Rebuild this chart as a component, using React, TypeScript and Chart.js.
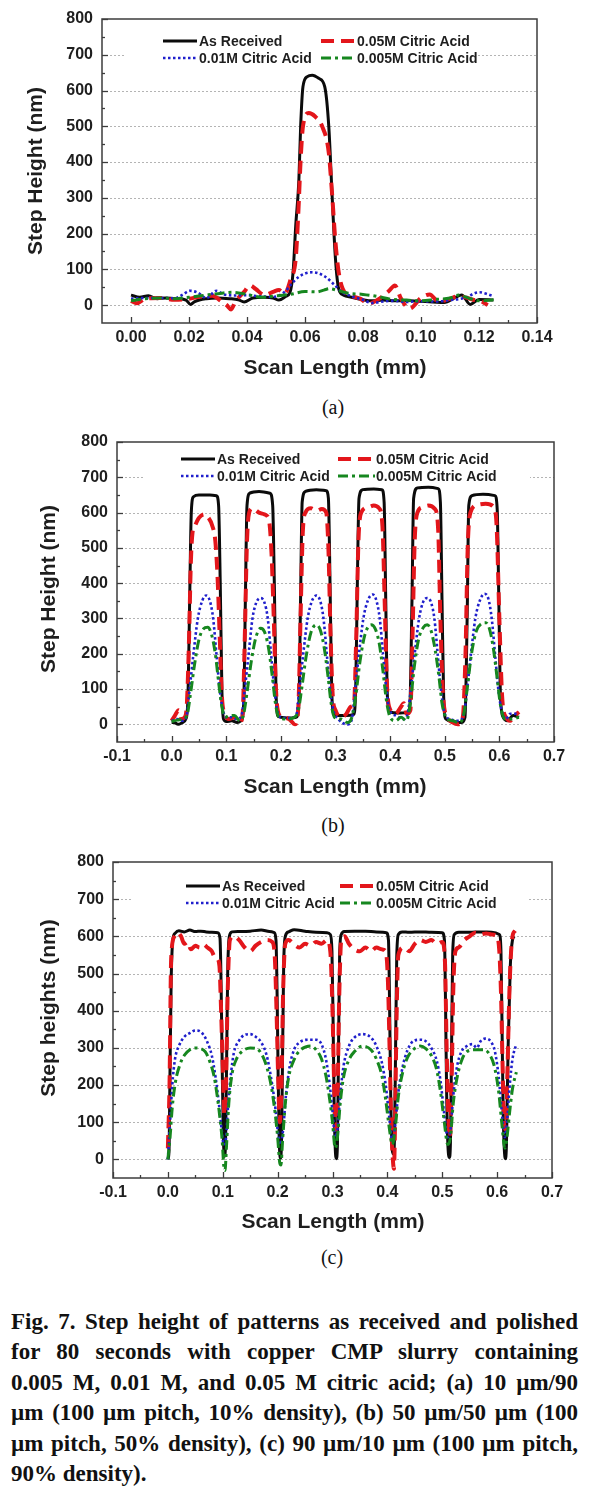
import React, { useEffect, useRef } from "react";
import { Chart, registerables } from "chart.js";

Chart.register(...registerables);

type Pt = [number, number];

const SERIES_NAMES = ["As Received", "0.05M Citric Acid", "0.01M Citric Acid", "0.005M Citric Acid"];

// ---------- Panel (a): 10 um / 90 um ----------
const aBlack: Pt[] = [[0,28],[0.003,22],[0.006,26],[0.009,18],[0.012,20],[0.016,18],[0.019,14],[0.0205,2],[0.022,10],[0.026,18],[0.03,20],[0.034,18],[0.037,15],[0.039,9],[0.042,20],[0.046,22],[0.049,20],[0.051,14],[0.0535,25],[0.0548,35],[0.0559,93],[0.0568,222],[0.0579,352],[0.0585,500],[0.0593,611],[0.0608,639],[0.0625,643],[0.0648,634],[0.0668,611],[0.0682,500],[0.0693,315],[0.0705,130],[0.0716,46],[0.0733,28],[0.076,22],[0.08,15],[0.083,12],[0.087,14],[0.091,12],[0.095,13],[0.099,11],[0.104,9],[0.108,7],[0.112,22],[0.114,28],[0.117,2],[0.12,16],[0.125,14]];
const aRed: Pt[] = [[0,12],[0.002,5],[0.005,18],[0.01,20],[0.015,15],[0.02,18],[0.024,24],[0.028,26],[0.031,12],[0.033,0],[0.0345,-12],[0.036,10],[0.039,37],[0.041,55],[0.043,45],[0.046,28],[0.049,37],[0.051,42],[0.053,32],[0.0551,74],[0.0568,130],[0.0577,259],[0.0585,407],[0.0593,500],[0.0613,537],[0.0634,528],[0.0659,500],[0.0682,426],[0.0693,315],[0.0705,176],[0.0716,93],[0.073,46],[0.076,26],[0.079,18],[0.082,5],[0.086,20],[0.089,40],[0.091,55],[0.093,20],[0.096,-10],[0.1,20],[0.103,30],[0.106,10],[0.11,18],[0.113,25],[0.118,15],[0.121,10],[0.123,0]];
const aBlue: Pt[] = [[0,18],[0.005,20],[0.01,20],[0.015,19],[0.018,30],[0.0203,40],[0.023,35],[0.026,20],[0.0294,40],[0.032,30],[0.036,27],[0.04,28],[0.044,25],[0.049,23],[0.053,37],[0.055,56],[0.058,80],[0.0625,92],[0.0665,82],[0.07,58],[0.0727,37],[0.076,25],[0.08,15],[0.083,6],[0.087,10],[0.09,12],[0.095,9],[0.1,11],[0.105,10],[0.11,14],[0.115,20],[0.12,36],[0.125,25]];
const aGreen: Pt[] = [[0,12],[0.005,18],[0.01,20],[0.015,18],[0.02,22],[0.025,27],[0.03,32],[0.035,36],[0.04,30],[0.045,22],[0.05,26],[0.055,30],[0.06,38],[0.064,37],[0.0665,42],[0.0685,46],[0.0716,40],[0.075,33],[0.08,30],[0.085,24],[0.09,16],[0.095,14],[0.1,12],[0.105,16],[0.11,20],[0.113,28],[0.117,18],[0.12,12],[0.125,15]];

// ---------- Panel (b): 50 um / 50 um ----------
const bBlack: Pt[] = [[0,5],[0.005,5],[0.012,0],[0.02,5],[0.026,15],[0.03,80],[0.033,350],[0.036,600],[0.04,645],[0.05,650],[0.07,650],[0.082,648],[0.086,620],[0.089,400],[0.092,100],[0.095,15],[0.1,8],[0.11,10],[0.12,5],[0.127,10],[0.132,60],[0.135,350],[0.138,620],[0.143,655],[0.16,660],[0.18,655],[0.185,620],[0.188,400],[0.191,100],[0.194,25],[0.2,20],[0.215,18],[0.228,20],[0.233,60],[0.236,350],[0.239,630],[0.245,660],[0.265,665],[0.283,662],[0.287,640],[0.29,400],[0.293,100],[0.297,30],[0.305,25],[0.32,25],[0.333,28],[0.337,100],[0.34,400],[0.343,640],[0.35,665],[0.37,667],[0.385,665],[0.389,630],[0.392,350],[0.395,80],[0.4,35],[0.415,32],[0.43,33],[0.436,50],[0.44,350],[0.443,640],[0.45,670],[0.47,672],[0.488,668],[0.492,630],[0.495,350],[0.498,80],[0.502,15],[0.515,8],[0.53,5],[0.537,20],[0.541,300],[0.544,620],[0.55,648],[0.57,652],[0.592,648],[0.596,610],[0.599,350],[0.602,80],[0.607,20],[0.615,10],[0.625,25],[0.636,20]];
const bRed: Pt[] = [[0,10],[0.006,25],[0.013,40],[0.018,15],[0.024,20],[0.028,60],[0.032,250],[0.035,450],[0.038,540],[0.042,560],[0.05,585],[0.06,595],[0.065,590],[0.075,560],[0.08,520],[0.084,420],[0.088,250],[0.092,80],[0.097,30],[0.105,15],[0.115,20],[0.125,5],[0.13,30],[0.134,250],[0.138,520],[0.142,600],[0.148,612],[0.16,600],[0.17,595],[0.178,580],[0.183,480],[0.187,300],[0.191,100],[0.196,30],[0.205,20],[0.215,15],[0.226,0],[0.232,50],[0.236,300],[0.24,540],[0.245,600],[0.255,612],[0.265,605],[0.275,610],[0.283,600],[0.287,500],[0.291,250],[0.295,80],[0.3,40],[0.31,20],[0.32,30],[0.328,50],[0.334,60],[0.338,250],[0.342,520],[0.347,600],[0.36,615],[0.37,620],[0.38,612],[0.386,560],[0.39,350],[0.394,120],[0.398,50],[0.41,30],[0.42,50],[0.425,60],[0.43,30],[0.437,40],[0.441,250],[0.445,520],[0.45,600],[0.46,615],[0.47,620],[0.482,610],[0.488,550],[0.492,300],[0.497,80],[0.505,20],[0.515,5],[0.524,0],[0.533,20],[0.538,200],[0.542,500],[0.547,600],[0.56,622],[0.575,625],[0.59,615],[0.595,560],[0.6,300],[0.605,80],[0.612,20],[0.62,10],[0.628,25],[0.636,35]];
const bBlue: Pt[] = [[0,10],[0.01,15],[0.02,10],[0.028,30],[0.033,100],[0.04,200],[0.048,300],[0.056,350],[0.063,365],[0.07,350],[0.076,300],[0.082,200],[0.088,100],[0.094,40],[0.1,20],[0.11,20],[0.12,15],[0.128,25],[0.134,100],[0.141,200],[0.148,300],[0.155,345],[0.163,358],[0.17,345],[0.176,300],[0.182,200],[0.188,100],[0.194,35],[0.2,20],[0.215,18],[0.228,25],[0.234,100],[0.241,200],[0.249,300],[0.257,350],[0.265,365],[0.272,350],[0.278,300],[0.284,200],[0.29,100],[0.296,40],[0.305,15],[0.322,0],[0.33,15],[0.336,100],[0.343,200],[0.351,300],[0.359,350],[0.368,368],[0.375,350],[0.381,300],[0.387,200],[0.393,100],[0.399,40],[0.41,25],[0.425,15],[0.432,30],[0.438,100],[0.445,200],[0.453,300],[0.46,345],[0.468,358],[0.475,345],[0.481,300],[0.487,200],[0.493,100],[0.5,30],[0.51,15],[0.525,10],[0.535,30],[0.541,100],[0.548,200],[0.556,300],[0.564,350],[0.573,370],[0.58,355],[0.586,300],[0.592,200],[0.598,100],[0.604,40],[0.612,15],[0.62,30],[0.636,30]];
const bGreen: Pt[] = [[0,8],[0.01,12],[0.02,15],[0.028,25],[0.034,80],[0.042,170],[0.05,240],[0.058,270],[0.066,275],[0.073,255],[0.08,200],[0.086,120],[0.092,50],[0.098,20],[0.105,25],[0.115,25],[0.125,10],[0.132,30],[0.138,90],[0.146,180],[0.154,245],[0.163,272],[0.17,262],[0.177,220],[0.184,140],[0.19,60],[0.196,20],[0.21,15],[0.225,20],[0.232,40],[0.238,100],[0.246,190],[0.255,260],[0.265,282],[0.272,268],[0.279,220],[0.286,140],[0.292,60],[0.298,20],[0.31,15],[0.322,5],[0.33,20],[0.337,80],[0.345,180],[0.354,255],[0.365,282],[0.373,270],[0.38,230],[0.387,150],[0.393,70],[0.4,20],[0.41,10],[0.42,20],[0.43,10],[0.437,60],[0.444,160],[0.452,240],[0.461,275],[0.468,282],[0.475,265],[0.482,215],[0.489,140],[0.495,60],[0.502,20],[0.515,10],[0.527,5],[0.535,30],[0.541,100],[0.549,200],[0.558,265],[0.567,285],[0.575,288],[0.582,270],[0.589,215],[0.596,130],[0.602,55],[0.61,15],[0.62,15],[0.636,20]];

// ---------- Panel (c): 90 um / 10 um ----------
const cBlack: Pt[] = [[0,0],[0.002,20],[0.004,250],[0.006,480],[0.009,590],[0.013,608],[0.02,615],[0.03,612],[0.04,617],[0.05,613],[0.06,614],[0.07,612],[0.08,611],[0.091,610],[0.095,595],[0.097,470],[0.099,250],[0.101,70],[0.103,8],[0.105,40],[0.107,260],[0.109,500],[0.112,600],[0.117,612],[0.13,613],[0.15,614],[0.17,617],[0.185,613],[0.194,610],[0.197,590],[0.199,450],[0.201,220],[0.203,50],[0.205,3],[0.207,40],[0.209,280],[0.211,520],[0.214,600],[0.22,612],[0.23,618],[0.25,614],[0.27,611],[0.29,610],[0.296,605],[0.299,560],[0.301,380],[0.303,150],[0.305,30],[0.307,2],[0.309,40],[0.311,300],[0.313,550],[0.316,605],[0.322,613],[0.34,614],[0.36,614],[0.38,612],[0.398,610],[0.402,590],[0.404,420],[0.406,180],[0.408,50],[0.411,15],[0.413,60],[0.415,300],[0.417,540],[0.42,605],[0.427,612],[0.44,611],[0.46,612],[0.48,611],[0.5,610],[0.504,590],[0.506,420],[0.508,180],[0.51,50],[0.513,5],[0.515,50],[0.517,300],[0.519,550],[0.522,605],[0.53,611],[0.55,611],[0.57,612],[0.59,611],[0.604,605],[0.607,560],[0.609,350],[0.611,130],[0.613,30],[0.615,2],[0.617,40],[0.62,300],[0.624,520],[0.628,590],[0.631,600]];
const cRed: Pt[] = [[0,30],[0.003,200],[0.006,540],[0.012,600],[0.018,610],[0.024,600],[0.03,580],[0.036,585],[0.042,565],[0.05,575],[0.058,570],[0.065,578],[0.072,570],[0.08,560],[0.085,545],[0.09,540],[0.094,520],[0.097,400],[0.1,250],[0.103,120],[0.106,200],[0.109,450],[0.113,590],[0.12,600],[0.13,590],[0.14,570],[0.15,560],[0.16,575],[0.17,585],[0.18,590],[0.19,585],[0.195,540],[0.198,400],[0.201,220],[0.204,100],[0.207,200],[0.21,450],[0.214,580],[0.22,590],[0.23,578],[0.24,570],[0.25,580],[0.26,575],[0.27,585],[0.28,580],[0.29,590],[0.296,560],[0.3,400],[0.303,200],[0.306,80],[0.309,150],[0.312,420],[0.316,590],[0.322,600],[0.33,580],[0.34,565],[0.35,560],[0.36,570],[0.37,560],[0.38,570],[0.39,565],[0.397,560],[0.401,480],[0.404,300],[0.407,100],[0.41,0],[0.412,-25],[0.414,100],[0.417,400],[0.42,550],[0.43,570],[0.44,560],[0.45,580],[0.46,590],[0.47,585],[0.48,590],[0.49,580],[0.5,585],[0.505,530],[0.508,300],[0.511,120],[0.514,60],[0.517,200],[0.52,450],[0.524,560],[0.53,570],[0.54,590],[0.55,600],[0.56,610],[0.57,605],[0.58,608],[0.59,605],[0.6,600],[0.604,560],[0.607,450],[0.61,250],[0.613,90],[0.616,80],[0.619,250],[0.623,480],[0.628,600],[0.633,615]];
const cBlue: Pt[] = [[0,0],[0.004,100],[0.008,200],[0.013,270],[0.02,305],[0.03,330],[0.04,340],[0.05,347],[0.058,345],[0.065,335],[0.072,315],[0.08,280],[0.087,220],[0.093,150],[0.098,80],[0.102,40],[0.106,60],[0.11,150],[0.115,230],[0.12,285],[0.13,320],[0.14,335],[0.15,337],[0.16,330],[0.17,315],[0.18,280],[0.188,220],[0.195,150],[0.2,80],[0.205,40],[0.21,80],[0.215,170],[0.222,250],[0.23,295],[0.24,315],[0.255,322],[0.27,322],[0.28,310],[0.288,270],[0.295,200],[0.3,130],[0.305,60],[0.309,80],[0.314,170],[0.32,250],[0.33,305],[0.34,328],[0.355,337],[0.37,328],[0.38,305],[0.39,260],[0.397,200],[0.403,120],[0.409,50],[0.414,90],[0.42,180],[0.428,250],[0.437,295],[0.447,318],[0.46,322],[0.47,318],[0.48,300],[0.49,265],[0.497,210],[0.503,130],[0.51,60],[0.515,80],[0.52,170],[0.527,250],[0.535,290],[0.545,305],[0.555,310],[0.563,300],[0.57,318],[0.578,325],[0.588,318],[0.596,290],[0.603,220],[0.609,120],[0.614,60],[0.618,100],[0.623,200],[0.628,270],[0.635,310]];
const cGreen: Pt[] = [[0,0],[0.004,60],[0.008,140],[0.014,210],[0.022,255],[0.03,280],[0.04,295],[0.05,300],[0.06,298],[0.068,290],[0.076,265],[0.084,225],[0.09,170],[0.095,110],[0.099,50],[0.102,-20],[0.104,-30],[0.107,40],[0.111,150],[0.117,230],[0.125,270],[0.135,290],[0.15,300],[0.162,298],[0.172,280],[0.18,250],[0.188,200],[0.195,130],[0.2,60],[0.204,-10],[0.206,-15],[0.209,50],[0.214,150],[0.22,220],[0.23,268],[0.24,292],[0.26,305],[0.27,295],[0.28,270],[0.288,225],[0.295,160],[0.3,100],[0.305,30],[0.309,60],[0.314,150],[0.32,220],[0.33,268],[0.34,290],[0.355,305],[0.37,295],[0.38,270],[0.39,225],[0.397,160],[0.403,90],[0.409,40],[0.414,80],[0.42,170],[0.428,235],[0.437,275],[0.447,295],[0.46,305],[0.47,298],[0.48,280],[0.49,240],[0.497,180],[0.503,110],[0.51,40],[0.515,60],[0.52,150],[0.527,220],[0.535,265],[0.545,290],[0.56,295],[0.575,295],[0.585,285],[0.595,250],[0.603,180],[0.609,90],[0.614,30],[0.618,60],[0.623,130],[0.628,190],[0.635,235]];

// ---------- Axes ----------
const Y_TICKS = [0, 100, 200, 300, 400, 500, 600, 700, 800];
const A_X_TICKS = [0, 0.02, 0.04, 0.06, 0.08, 0.1, 0.12, 0.14];
const BC_X_TICKS = [-0.1, 0, 0.1, 0.2, 0.3, 0.4, 0.5, 0.6, 0.7];

const CAPTION_LINES = [
  "Fig. 7. Step height of patterns as received and polished",
  "for 80 seconds with copper CMP slurry containing",
  "0.005 M, 0.01 M, and 0.05 M citric acid; (a) 10 µm/90",
  "µm (100 µm pitch, 10% density), (b) 50 µm/50 µm (100",
  "µm pitch, 50% density), (c) 90 µm/10 µm (100 µm pitch,",
  "90% density).",
];

const SANS = '"Liberation Sans", Arial, Helvetica, sans-serif';
const SERIF = '"Liberation Serif", "Times New Roman", serif';
const TEXT = "#1e1e1e";
const STYLES = [
  { color: "#0b0b0b", width: 3, dash: [] as number[] },
  { color: "#e3161b", width: 4, dash: [13, 7] },
  { color: "#1f1fcc", width: 2.6, dash: [2.5, 2.5] },
  { color: "#16871f", width: 3, dash: [10, 4, 3, 4] },
];

type Panel = {
  top: number;
  height: number;
  plotLeft: number;
  plotRight: number;
  plotTop: number;
  plotBottom: number;
  xMin: number;
  xMax: number;
  xTicks: number[];
  xDecimals: number;
  xTitle: string;
  yTitle: string;
  xTitlePos: [number, number];
  yTitlePos: [number, number];
  rows: [number, number];
  col1: [number, number, number];
  col2: [number, number, number];
  legendBg: [number, number, number, number];
  series: Pt[][];
  label: string;
  labelPos: [number, number];
};

const W = 595;

const PANELS: Panel[] = [
  {
    top: 0, height: 390, plotLeft: 102, plotRight: 537, plotTop: 19, plotBottom: 323,
    xMin: -0.01, xMax: 0.14, xTicks: A_X_TICKS, xDecimals: 2,
    xTitle: "Scan Length (mm)", yTitle: "Step Height (nm)",
    xTitlePos: [335, 368], yTitlePos: [36, 171],
    rows: [41, 58], col1: [163, 197, 199], col2: [321, 356, 357], legendBg: [125, 29, 477, 67],
    series: [aBlack, aRed, aBlue, aGreen], label: "(a)", labelPos: [333, 407],
  },
  {
    top: 420, height: 390, plotLeft: 117, plotRight: 554, plotTop: 22, plotBottom: 322,
    xMin: -0.1, xMax: 0.7, xTicks: BC_X_TICKS, xDecimals: 1,
    xTitle: "Scan Length (mm)", yTitle: "Step Height (nm)",
    xTitlePos: [335, 367], yTitlePos: [49, 169],
    rows: [39, 56], col1: [181, 215, 217], col2: [338, 375, 376], legendBg: [145, 27, 530, 65],
    series: [bBlack, bRed, bBlue, bGreen], label: "(b)", labelPos: [333, 825],
  },
  {
    top: 840, height: 400, plotLeft: 113, plotRight: 552, plotTop: 22, plotBottom: 338,
    xMin: -0.1, xMax: 0.7, xTicks: BC_X_TICKS, xDecimals: 1,
    xTitle: "Scan Length (mm)", yTitle: "Step heights (nm)",
    xTitlePos: [333, 382], yTitlePos: [49, 168],
    rows: [46, 63], col1: [186, 220, 222], col2: [340, 375, 376], legendBg: [131, 34, 528, 73],
    series: [cBlack, cRed, cBlue, cGreen], label: "(c)", labelPos: [332, 1257],
  },
];

function midpoints(v: number[]): number[] {
  const out: number[] = [];
  for (let i = 0; i < v.length - 1; i++) out.push((v[i] + v[i + 1]) / 2);
  return out;
}

function PanelChart({ p }: { p: Panel }) {
  const ref = useRef<HTMLCanvasElement | null>(null);
  useEffect(() => {
    const canvas = ref.current;
    if (!canvas) return;
    const decor = {
      id: "decor",
      beforeDatasetsDraw(chart: any) {
        const { ctx, chartArea: a, scales } = chart;
        const y = scales.y;
        ctx.save();
        ctx.strokeStyle = "#b4b4b4";
        ctx.lineWidth = 1;
        ctx.setLineDash([2, 2]);
        for (const v of Y_TICKS) {
          if (v >= 800) continue;
          const py = Math.round(y.getPixelForValue(v)) + 0.5;
          ctx.beginPath();
          ctx.moveTo(a.left, py);
          ctx.lineTo(a.right, py);
          ctx.stroke();
        }
        ctx.restore();
      },
      afterDatasetsDraw(chart: any) {
        const { ctx, chartArea: a, scales } = chart;
        const x = scales.x;
        const y = scales.y;
        ctx.save();
        // legend background
        const [bx0, by0, bx1, by1] = p.legendBg;
        ctx.fillStyle = "#ffffff";
        ctx.fillRect(bx0, by0, bx1 - bx0, by1 - by0);
        // legend entries
        const slots: [number, [number, number, number]][] = [
          [p.rows[0], p.col1],
          [p.rows[0], p.col2],
          [p.rows[1], p.col1],
          [p.rows[1], p.col2],
        ];
        ctx.font = `bold 14px ${SANS}`;
        ctx.textBaseline = "middle";
        ctx.textAlign = "left";
        slots.forEach(([ry, col], i) => {
          const s = STYLES[i];
          ctx.strokeStyle = s.color;
          ctx.lineWidth = s.width;
          ctx.setLineDash(s.dash);
          ctx.beginPath();
          ctx.moveTo(col[0], ry);
          ctx.lineTo(col[1], ry);
          ctx.stroke();
          ctx.setLineDash([]);
          ctx.fillStyle = TEXT;
          ctx.fillText(SERIES_NAMES[i], col[2], ry + 1);
        });
        // frame
        ctx.setLineDash([]);
        ctx.strokeStyle = "#3c3c3c";
        ctx.lineWidth = 1.5;
        ctx.strokeRect(a.left, a.top, a.right - a.left, a.bottom - a.top);
        // inward ticks
        ctx.lineWidth = 1.3;
        const yMinor = midpoints(Y_TICKS);
        for (const v of Y_TICKS) {
          const py = Math.round(y.getPixelForValue(v)) + 0.5;
          ctx.beginPath(); ctx.moveTo(a.left, py); ctx.lineTo(a.left + 6, py); ctx.stroke();
        }
        for (const v of yMinor) {
          const py = Math.round(y.getPixelForValue(v)) + 0.5;
          ctx.beginPath(); ctx.moveTo(a.left, py); ctx.lineTo(a.left + 3, py); ctx.stroke();
        }
        for (const v of p.xTicks) {
          const px = Math.round(x.getPixelForValue(v)) + 0.5;
          ctx.beginPath(); ctx.moveTo(px, a.bottom); ctx.lineTo(px, a.bottom - 6); ctx.stroke();
        }
        for (const v of midpoints(p.xTicks)) {
          const px = Math.round(x.getPixelForValue(v)) + 0.5;
          ctx.beginPath(); ctx.moveTo(px, a.bottom); ctx.lineTo(px, a.bottom - 3); ctx.stroke();
        }
        // axis titles
        ctx.fillStyle = TEXT;
        ctx.font = `bold 21px ${SANS}`;
        ctx.textAlign = "center";
        ctx.textBaseline = "middle";
        ctx.fillText(p.xTitle, p.xTitlePos[0], p.xTitlePos[1]);
        ctx.translate(p.yTitlePos[0], p.yTitlePos[1]);
        ctx.rotate(-Math.PI / 2);
        ctx.fillText(p.yTitle, 0, 0);
        ctx.restore();
      },
    };

    const tickFont = { family: SANS, size: 16, weight: "bold" as const };
    const chart = new Chart(canvas, {
      type: "line",
      data: {
        datasets: p.series.map((pts, i) => ({
          label: SERIES_NAMES[i],
          data: pts.map(([vx, vy]) => ({ x: vx, y: vy })),
          borderColor: STYLES[i].color,
          borderWidth: STYLES[i].width,
          borderDash: STYLES[i].dash,
          pointRadius: 0,
          fill: false,
          cubicInterpolationMode: "monotone" as const,
          order: 4 - i,
        })),
      },
      options: {
        responsive: false,
        animation: false,
        events: [],
        layout: { padding: { top: p.plotTop, right: W - p.plotRight, left: 0, bottom: 0 } },
        plugins: { legend: { display: false }, tooltip: { enabled: false }, title: { display: false } },
        scales: {
          x: {
            type: "linear",
            min: p.xMin,
            max: p.xMax,
            afterBuildTicks: (ax: any) => { ax.ticks = p.xTicks.map((v) => ({ value: v })); },
            afterFit: (ax: any) => { ax.height = p.height - p.plotBottom; },
            grid: { display: false, drawTicks: false },
            border: { display: false },
            ticks: {
              font: tickFont,
              color: TEXT,
              padding: 5,
              maxRotation: 0,
              autoSkip: false,
              callback: (v: any) => Number(v).toFixed(p.xDecimals),
            },
          },
          y: {
            type: "linear",
            min: -50,
            max: 800,
            afterBuildTicks: (ax: any) => { ax.ticks = Y_TICKS.map((v) => ({ value: v })); },
            afterFit: (ax: any) => { ax.width = p.plotLeft; },
            grid: { display: false, drawTicks: false },
            border: { display: false },
            ticks: { font: tickFont, color: TEXT, padding: 9, callback: (v: any) => String(v) },
          },
        },
      } as any,
      plugins: [decor],
    });
    return () => chart.destroy();
  }, [p]);
  return (
    <canvas
      ref={ref}
      width={W}
      height={p.height}
      style={{ position: "absolute", left: 0, top: p.top, width: W, height: p.height }}
    />
  );
}

export default function App() {
  return (
    <div style={{ position: "absolute", left: 0, top: 0, width: W, height: 1492, background: "#fff", overflow: "hidden" }}>
      {PANELS.map((p) => (
        <React.Fragment key={p.label}>
          <PanelChart p={p} />
          <div
            style={{
              position: "absolute",
              left: p.labelPos[0],
              top: p.labelPos[1],
              transform: "translate(-50%, -50%)",
              fontFamily: SERIF,
              fontSize: 20,
              color: "#111",
              lineHeight: "24px",
            }}
          >
            {p.label}
          </div>
        </React.Fragment>
      ))}
      <div
        style={{
          position: "absolute",
          left: 11,
          top: 1307,
          width: 567,
          fontFamily: SERIF,
          fontWeight: "bold",
          fontSize: 23,
          lineHeight: "30.4px",
          color: "#111",
        }}
      >
        {CAPTION_LINES.map((line, i) => (
          <div
            key={i}
            style={{
              textAlign: i === CAPTION_LINES.length - 1 ? "left" : "justify",
              textAlignLast: i === CAPTION_LINES.length - 1 ? "left" : "justify",
              height: 30.4,
            }}
          >
            {line}
          </div>
        ))}
      </div>
    </div>
  );
}
